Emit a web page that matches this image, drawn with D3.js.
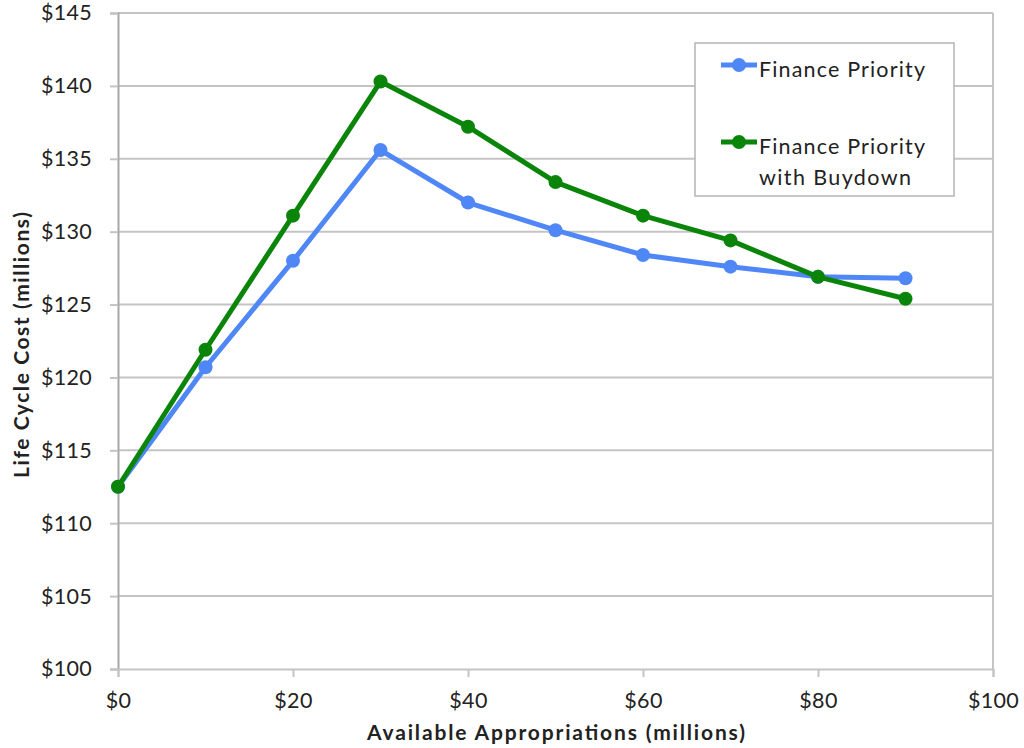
<!DOCTYPE html>
<html>
<head>
<meta charset="utf-8">
<script src="https://cdn.jsdelivr.net/npm/d3@7"></script>
<style>
  html, body { margin: 0; padding: 0; background: #fff; }
  svg text { font-family: Lato, "Open Sans", sans-serif; fill: #222; }
</style>
</head>
<body>
<svg id="chart" width="1024" height="748"></svg>
<script>
// Appropriations available (millions of dollars)
const appropriations = [0, 10, 20, 30, 40, 50, 60, 70, 80, 90];
// Life cycle cost (millions of dollars) for each strategy
const financePriority = [112.5, 120.7, 128.0, 135.6, 132.0, 130.1, 128.4, 127.6, 126.9, 126.8];
const financePriorityBuydown = [112.5, 121.9, 131.1, 140.3, 137.2, 133.4, 131.1, 129.4, 126.9, 125.4];
const seriesNames = [["Finance Priority"], ["Finance Priority", "with Buydown"]];
const seriesColors = ["#4f87f7", "#0a850a"];
const xTicks = [0, 20, 40, 60, 80, 100];
const yTicks = [100, 105, 110, 115, 120, 125, 130, 135, 140, 145];

const svg = d3.select("#chart");
const x = d3.scaleLinear().domain([0, 100]).range([118, 993]);
const y = d3.scaleLinear().domain([100, 145]).range([669, 13]);
const grid = "#c4c4c4";
const fmt = d => "$" + d;

// horizontal gridlines
svg.append("g").selectAll("line").data(yTicks.filter(d => d > 100)).join("line")
  .attr("x1", x(0)).attr("x2", x(100))
  .attr("y1", d => y(d)).attr("y2", d => y(d))
  .attr("stroke", grid).attr("stroke-width", 2);

// right border of plot area
svg.append("line").attr("x1", x(100)).attr("x2", x(100))
  .attr("y1", y(145)).attr("y2", y(100))
  .attr("stroke", grid).attr("stroke-width", 2);

// y axis
const yAxis = svg.append("g").attr("transform", `translate(${x(0)},0)`)
  .call(d3.axisLeft(y).tickValues(yTicks).tickFormat(fmt).tickSize(8).tickPadding(18));
yAxis.select(".domain").attr("stroke", "#a8a8a8").attr("stroke-width", 2);
yAxis.selectAll(".tick line").attr("stroke", grid).attr("stroke-width", 2);
yAxis.selectAll(".tick text").attr("font-size", 21.5).attr("font-family", "Lato, sans-serif")
  .attr("fill", "#222").attr("letter-spacing", 0.3);

// x axis
const xAxis = svg.append("g").attr("transform", `translate(0,${y(100)})`)
  .call(d3.axisBottom(x).tickValues(xTicks).tickFormat(fmt).tickSize(8).tickPadding(16));
xAxis.select(".domain").attr("stroke", grid).attr("stroke-width", 2);
xAxis.selectAll(".tick line").attr("stroke", grid).attr("stroke-width", 2);
xAxis.selectAll(".tick text").attr("font-size", 21.5).attr("font-family", "Lato, sans-serif")
  .attr("fill", "#222").attr("letter-spacing", 0.3);

// axis titles
svg.append("text").attr("x", 556).attr("y", 740).attr("text-anchor", "middle")
  .attr("font-size", 21).attr("font-weight", "bold")
  .attr("textLength", 378).attr("lengthAdjust", "spacing")
  .text("Available Appropriations (millions)");
svg.append("text").attr("transform", "translate(29,345) rotate(-90)").attr("text-anchor", "middle")
  .attr("font-size", 21).attr("font-weight", "bold")
  .attr("textLength", 266).attr("lengthAdjust", "spacing")
  .text("Life Cycle Cost (millions)");

// series lines and markers
const series = [financePriority, financePriorityBuydown];
const line = d3.line().x((d, i) => x(appropriations[i])).y(d => y(d));
series.forEach((vals, s) => {
  const g = svg.append("g");
  g.append("path").datum(vals).attr("d", line)
    .attr("fill", "none").attr("stroke", seriesColors[s]).attr("stroke-width", 5)
    .attr("stroke-linejoin", "round");
  g.selectAll("circle").data(vals).join("circle")
    .attr("cx", (d, i) => x(appropriations[i])).attr("cy", d => y(d))
    .attr("r", 7).attr("fill", seriesColors[s]);
});

// legend
const lg = svg.append("g");
lg.append("rect").attr("x", 695).attr("y", 43).attr("width", 259).attr("height", 153)
  .attr("fill", "#fff").attr("stroke", "#b4b4b4").attr("stroke-width", 1.5);
const legendRows = [65, 142];
const legendWidths = { "Finance Priority": 166, "with Buydown": 152 };
seriesNames.forEach((lines, s) => {
  const cy = legendRows[s];
  lg.append("line").attr("x1", 721).attr("x2", 757).attr("y1", cy).attr("y2", cy)
    .attr("stroke", seriesColors[s]).attr("stroke-width", 5);
  lg.append("circle").attr("cx", 739).attr("cy", cy).attr("r", 7).attr("fill", seriesColors[s]);
  lines.forEach((t, k) => {
    lg.append("text").attr("x", 759).attr("y", cy + 12 + k * 31)
      .attr("font-size", 21.5)
      .attr("textLength", legendWidths[t]).attr("lengthAdjust", "spacing")
      .text(t);
  });
});
</script>
</body>
</html>
